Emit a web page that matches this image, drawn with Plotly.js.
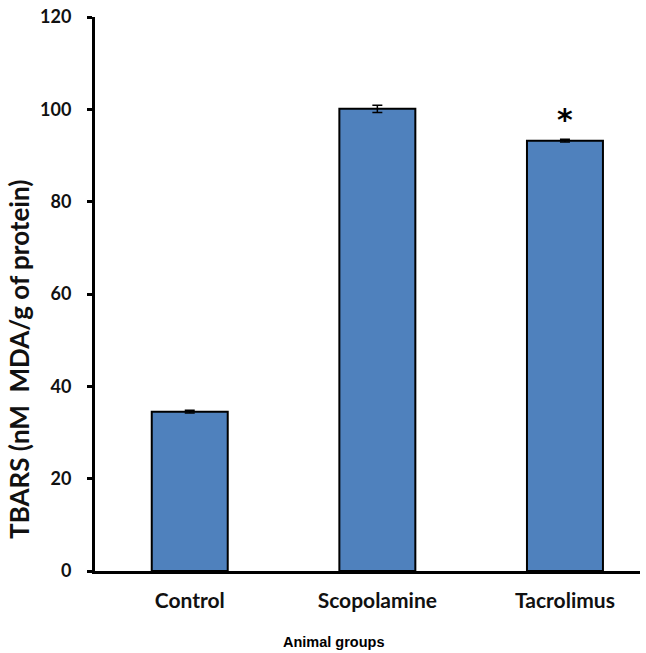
<!DOCTYPE html>
<html>
<head>
<meta charset="utf-8">
<script src="https://cdn.plot.ly/plotly-3.0.1.min.js"></script>
<style>html,body{margin:0;padding:0;background:#fff;}</style>
</head>
<body>
<div id="chart" style="width:646px;height:653px;"></div>
<script>
const categories = ["Control", "Scopolamine", "Tacrolimus"];
const tbarsValues = [34.5, 100.1, 93.2];
const tbarsErrors = [0.3, 0.8, 0.3];
const significance = ["", "", "*"];
const yTickValues = [0, 20, 40, 60, 80, 100, 120];
const xTitle = "Animal groups";
const yTitle = "TBARS (nM\u00A0 MDA/g of protein)";

const bars = {
  type: "bar",
  x: categories,
  y: tbarsValues,
  width: 0.405,
  marker: {color: "#4F81BD", line: {color: "#000", width: 2}},
  error_y: {type: "data", array: tbarsErrors, visible: true, color: "#000", thickness: 1.5, width: 5},
  hoverinfo: "x+y"
};

const annotations = categories.map((c, i) => ({
  x: c, y: tbarsValues[i] + tbarsErrors[i], text: significance[i],
  showarrow: false, yanchor: "bottom", yshift: 0,
  font: {family: "'DejaVu Sans', sans-serif", size: 30, weight: "bold", color: "#000"}
})).filter(a => a.text);

annotations.push({
  xref: "paper", yref: "paper", x: 0, xshift: -76, xanchor: "center",
  y: 0.381, yanchor: "middle", textangle: -90, showarrow: false,
  text: yTitle,
  font: {family: "Lato, 'Open Sans', sans-serif", size: 26, weight: "bold", color: "#111"}
});
annotations.push({
  xref: "paper", yref: "paper", x: 0.4385, xanchor: "center",
  y: 0, yshift: -71, yanchor: "middle", showarrow: false,
  text: xTitle,
  font: {family: "'Liberation Sans', Arial, sans-serif", size: 14.5, weight: "bold", color: "#000"}
});

const layout = {
  width: 646, height: 653,
  margin: {l: 95, r: 6, t: 17, b: 82},
  paper_bgcolor: "#fff", plot_bgcolor: "#fff",
  showlegend: false,
  font: {family: "Lato, 'Open Sans', sans-serif", color: "#000"},
  xaxis: {
    range: [-0.505, 2.4],
    showline: true, linecolor: "#000", linewidth: 3,
    ticks: "", showgrid: false, zeroline: false,
    ticklabelstandoff: 9,
    tickfont: {family: "Lato, 'Open Sans', sans-serif", size: 21, weight: "bold", color: "#111"}
  },
  yaxis: {
    range: [0, 120], tickvals: yTickValues,
    showline: true, linecolor: "#000", linewidth: 3,
    ticks: "outside", ticklen: 5, tickwidth: 3, tickcolor: "#000",
    showgrid: false, zeroline: false,
    ticklabelstandoff: 12,
    tickfont: {family: "Lato, 'Open Sans', sans-serif", size: 18, weight: "bold", color: "#111"}
  },
  annotations: annotations
};

Plotly.newPlot("chart", [bars], layout, {displayModeBar: false, staticPlot: true});
</script>
</body>
</html>
